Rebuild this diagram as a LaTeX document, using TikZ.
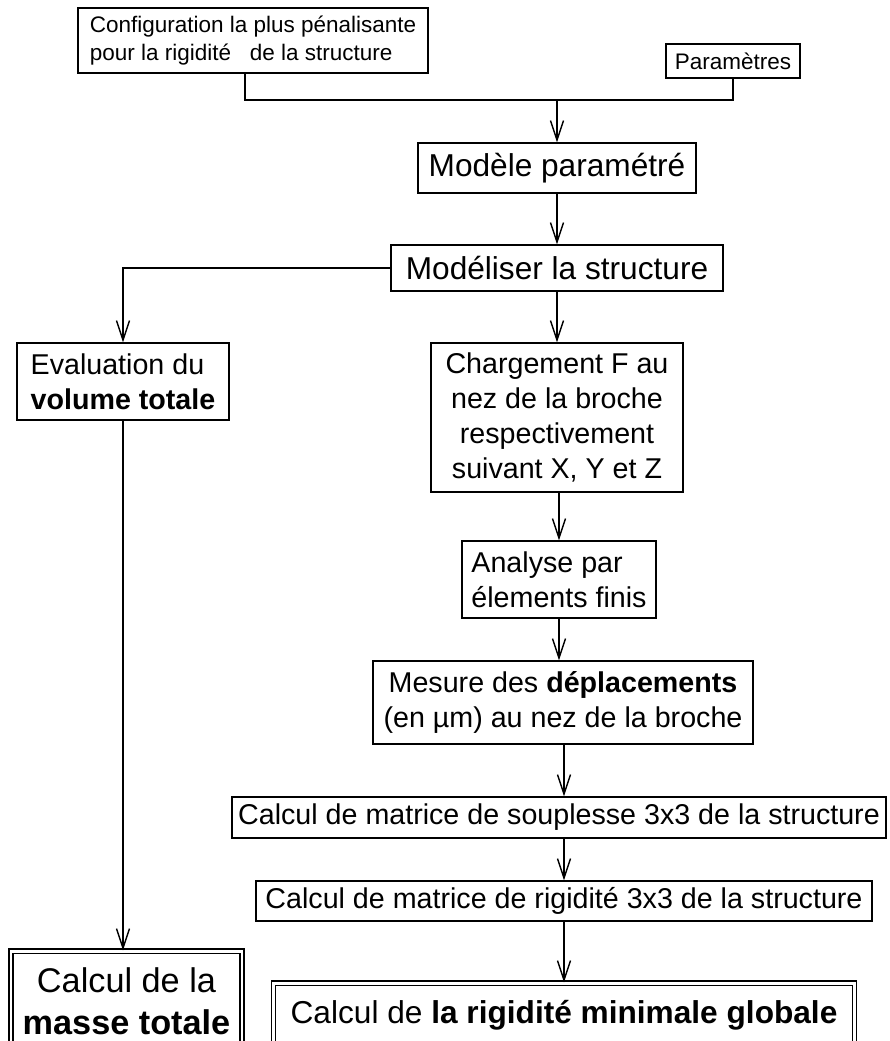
\documentclass[tikz,border=0pt]{standalone}
\usepackage{fontspec}
\setmainfont{Liberation Sans}
\usetikzlibrary{arrows.meta,positioning}
\tikzset{
  boite/.style={draw,line width=0.8pt,align=center,inner sep=2pt,
                font=\fontsize{16.3}{20}\selectfont},
  boiteg/.style={boite,font=\fontsize{18}{22}\selectfont},
  boitep/.style={boite,font=\fontsize{12.8}{15.6}\selectfont},
  boited/.style={boite,double,double distance=1.7pt,
                 font=\fontsize{19.5}{24}\selectfont},
  fleche/.style={-{Straight Barb[length=3.9mm,width=2.6mm]},line width=0.8pt},
  trait/.style={line width=0.8pt},
}
\begin{document}
\begin{tikzpicture}[x=1cm,y=1cm]
\useasboundingbox (0,0) rectangle (17.78,-20.82);

\node[boitep,align=left,minimum width=7.0cm,minimum height=1.3cm] (config) at (5.06,-0.81)
  {Configuration la plus pénalisante\\pour la rigidité \ \ de la structure};
\node[boitep,minimum width=2.68cm,minimum height=0.68cm] (param) at (14.66,-1.22) {Paramètres};
\coordinate (jonction) at (11.14,-2.0);

\node[boiteg,minimum width=5.56cm,minimum height=1.0cm] (modele) at (11.14,-3.36) {Modèle paramétré};
\node[boiteg,minimum width=6.64cm,minimum height=0.92cm] (modeliser) at (11.14,-5.36) {Modéliser la structure};

\node[boite,align=left,minimum width=4.24cm,minimum height=1.54cm] (evaluation) at (2.46,-7.63)
  {Evaluation du\\\textbf{volume totale}};
\node[boite,minimum width=5.04cm,minimum height=2.98cm] (chargement) at (11.14,-8.35)
  {Chargement F au\\nez de la broche\\respectivement\\suivant X, Y et Z};
\node[boite,align=left,minimum width=3.88cm,minimum height=1.54cm] (analyse) at (11.18,-11.59)
  {Analyse par\\élements finis};
\node[boite,minimum width=7.6cm,minimum height=1.66cm] (mesure) at (11.26,-14.05)
  {Mesure des \textbf{déplacements}\\(en µm) au nez de la broche};
\node[boite,minimum width=13.08cm,minimum height=0.82cm] (souplesse) at (11.18,-16.35)
  {Calcul de matrice de souplesse 3x3 de la structure};
\node[boite,minimum width=12.32cm,minimum height=0.8cm] (rigidite) at (11.28,-18.02)
  {Calcul de matrice de rigidité 3x3 de la structure};

% les deux boites du bas sont coupees par le bord de l'image
\node[boited,font=\fontsize{18}{22}\selectfont,minimum width=11.62cm,minimum height=1.3cm] (rigmin) at (11.28,-20.31)
  {Calcul de \textbf{la rigidité minimale globale}};
\node[boited,minimum width=4.62cm,minimum height=2.0cm] (masse) at (2.53,-20.02)
  {Calcul de la\\\textbf{masse totale}};

\draw[trait] ([xshift=-0.16cm]config.south) |- (jonction) -| (param.south);
\draw[fleche] (jonction) -- (modele.north);
\draw[fleche] (modele) -- (modeliser);
\draw[fleche] (modeliser.west) -| (evaluation.north);
\draw[fleche] (modeliser) -- (chargement);
\draw[fleche] (chargement.south -| analyse) -- (analyse);
\draw[fleche] (analyse) -- (analyse |- mesure.north);
\draw[fleche] (mesure.south -| rigidite) -- (rigidite |- souplesse.north);
\draw[fleche] (souplesse.south -| rigidite) -- (rigidite);
\draw[fleche] (rigidite) -- (rigmin);
\draw[fleche] (evaluation) -- (evaluation |- masse.north);

\end{tikzpicture}
\end{document}
